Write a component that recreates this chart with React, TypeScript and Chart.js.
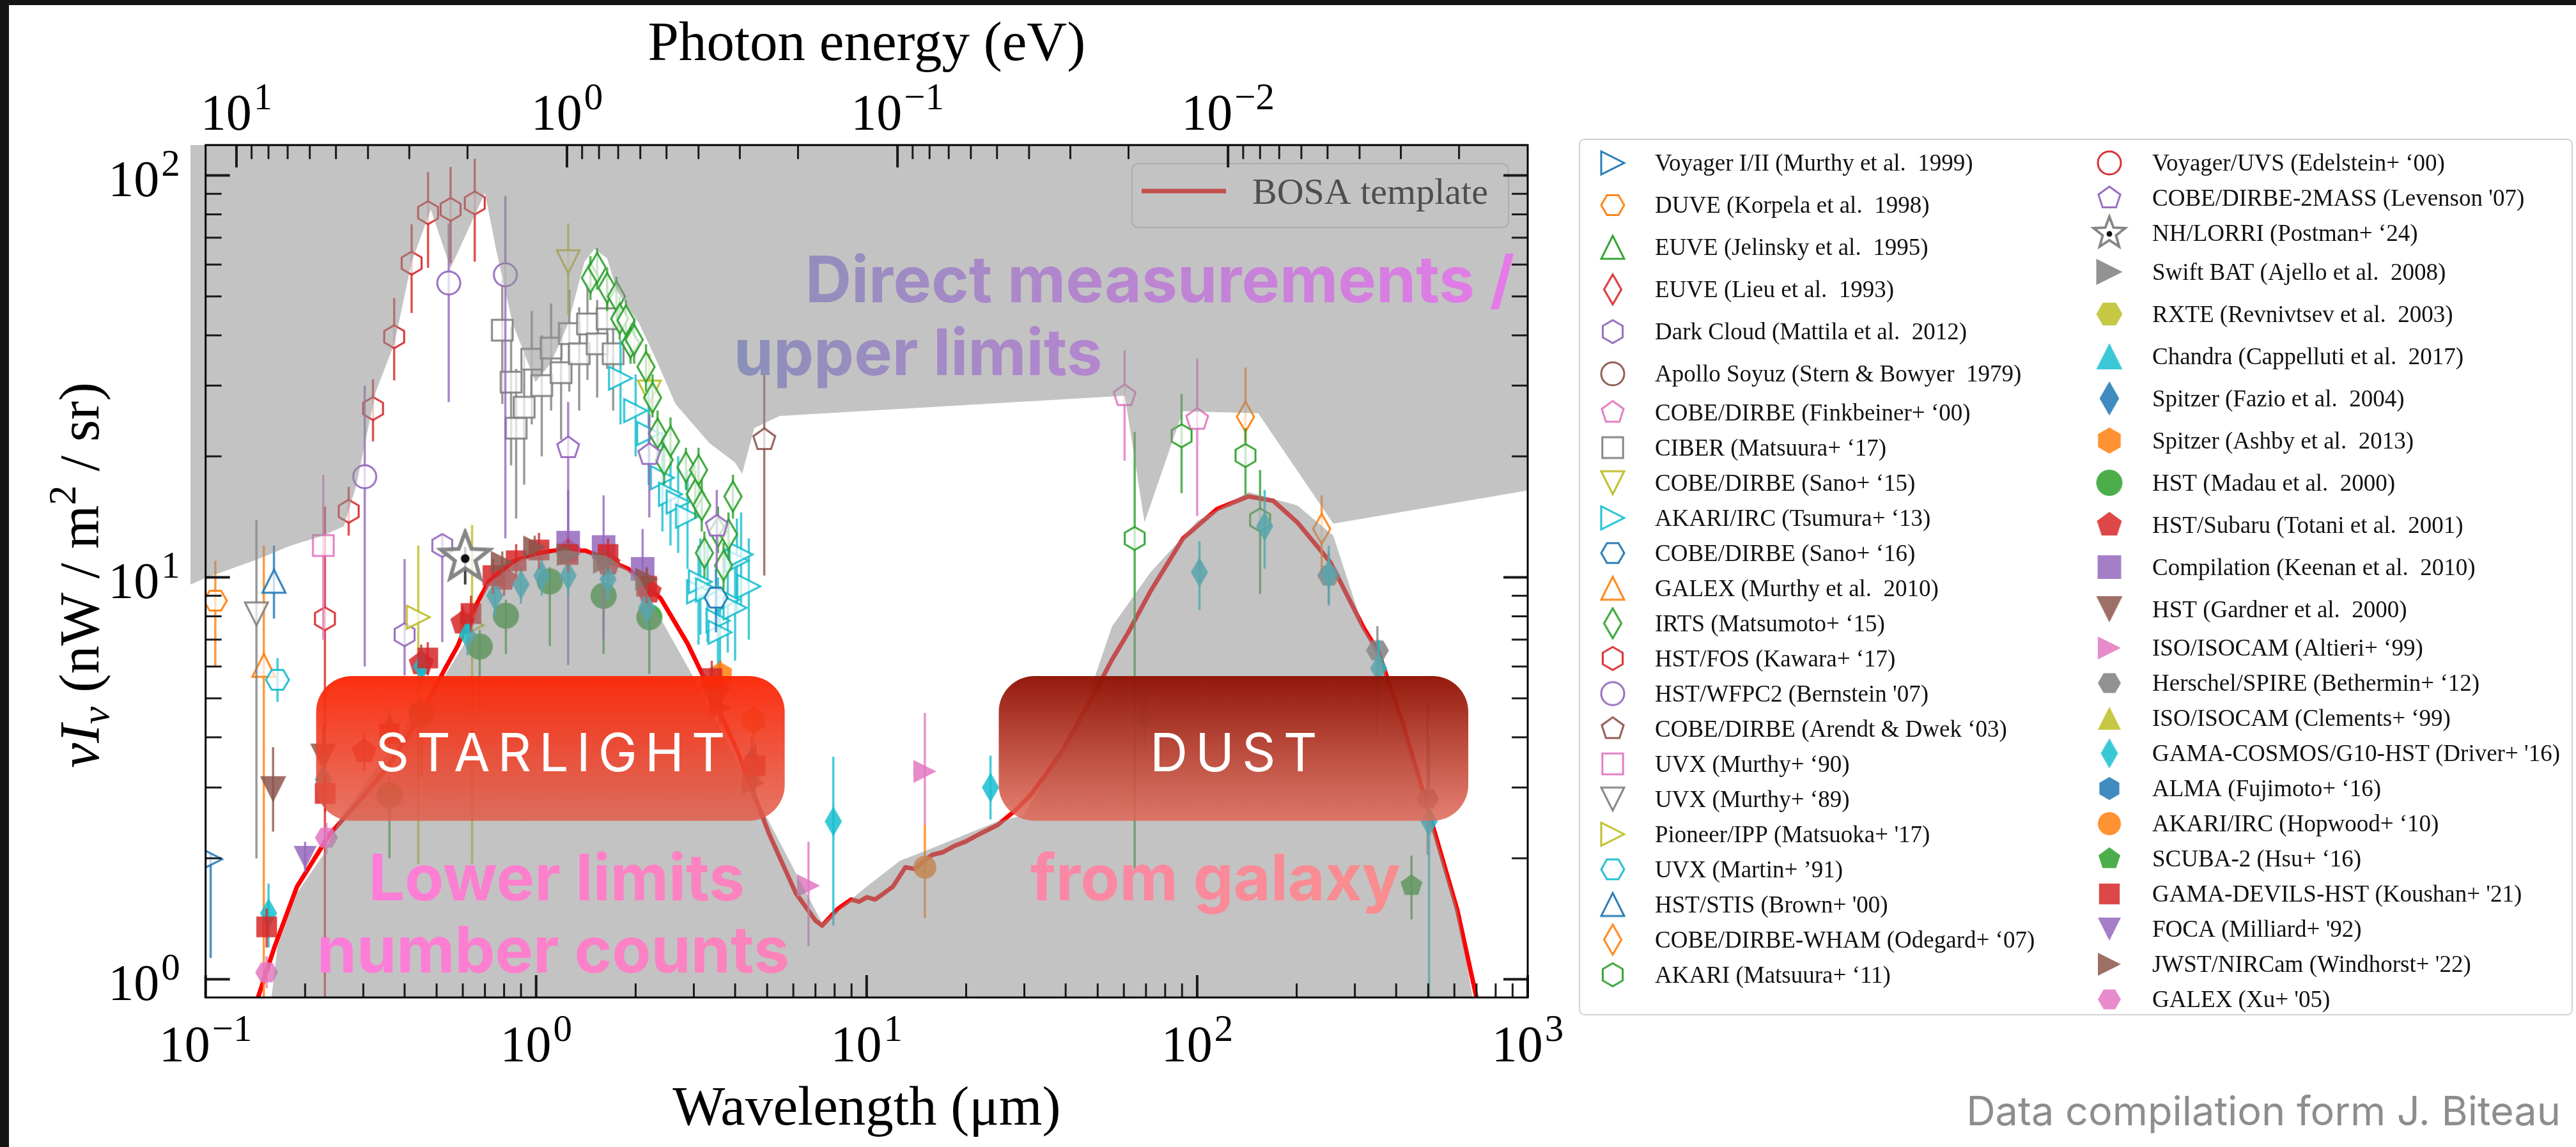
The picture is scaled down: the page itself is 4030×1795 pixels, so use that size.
import React, { useEffect, useRef } from 'react';
import { Chart, registerables } from 'chart.js';

Chart.register(...registerables);

type Pt = [number, number, number?, number?]; // [wavelength µm, nuI_nu, err low, err high]
type XY = [number, number];

const W = 4030;
const H = 1795;

// ---------------- axes ----------------
const X_MIN = 0.09;
const X_MAX = 1000;
const X_FRAME_MIN = 0.1;
const Y_MIN = 0.901;
const Y_MAX = 119.0;
const HC_EV_UM = 1.23984;

const BOTTOM_MAJOR = [0.1, 1, 10, 100, 1000];
const BOTTOM_EXP = ['−1', '0', '1', '2', '3'];
const TOP_MAJOR_EV = [10, 1, 0.1, 0.01];
const TOP_EXP = ['1', '0', '−1', '−2'];
const LEFT_MAJOR = [1, 10, 100];
const LEFT_EXP = ['0', '1', '2'];

// ---------------- envelopes & template ----------------
const UPPER_LIMIT_ENVELOPE: XY[] = [
  [0.09, 9.6], [0.1, 9.96], [0.144, 11.1], [0.181, 12.0], [0.227, 12.7], [0.262, 13.4],
  [0.285, 16.8], [0.327, 28.9], [0.373, 38.3], [0.42, 60.9], [0.48, 82.2], [0.551, 58.8],
  [0.70, 90.4], [0.759, 64.6], [0.849, 42.8], [0.996, 30.6], [1.11, 34.2], [1.25, 42.8],
  [1.40, 60.9], [1.50, 65.6], [1.64, 62.2], [1.755, 51.6], [2.05, 42.8], [2.3, 35.0],
  [2.64, 27.0], [3.34, 21.6], [4.0, 19.3], [4.2, 18.1], [4.57, 23.5], [5.45, 25.2],
  [60.4, 28.3], [69.3, 13.7], [84.8, 22.2], [90.6, 25.9], [153, 25.6], [258, 13.6], [1019, 16.5],
];

const LOWER_LIMIT_ENVELOPE: XY[] = [
  [0.157, 0.85], [0.165, 1.21], [0.189, 1.64], [0.227, 2.04], [0.255, 2.51], [0.36, 3.7],
  [0.45, 4.9], [0.53, 5.7], [0.618, 7.0], [0.71, 9.6], [0.9, 11.1], [1.22, 11.7], [1.64, 11.3],
  [2.05, 10.0], [2.38, 7.9], [2.97, 5.7], [7.33, 1.38], [10.0, 1.70], [12.6, 1.97], [15.8, 2.12],
  [24.9, 2.47], [29.9, 2.56], [35, 3.2], [45, 4.6], [55.3, 7.56], [72.3, 10.3], [100, 13.8],
  [143, 16.3], [201, 15.1], [258, 12.7], [317, 7.56], [354, 6.5], [499, 2.65], [612, 1.49], [690, 0.85],
];

const BOSA_TEMPLATE: XY[] = [
  [0.14, 0.85], [0.144, 0.9], [0.162, 1.21], [0.189, 1.70], [0.237, 2.29], [0.3, 2.85],
  [0.357, 3.39], [0.449, 4.56], [0.53, 5.92], [0.58, 6.77], [0.62, 7.75], [0.673, 8.83],
  [0.72, 9.77], [0.84, 10.9], [1.0, 11.45], [1.13, 11.65], [1.41, 11.65], [1.9, 10.5],
  [2.38, 8.87], [2.87, 6.85], [3.23, 5.6], [4.05, 3.72], [5.08, 2.29], [6.1, 1.64],
  [7.0, 1.40], [7.33, 1.36], [7.7, 1.42], [8.2, 1.5], [8.98, 1.58], [9.5, 1.56], [10.0, 1.6],
  [10.6, 1.58], [11.2, 1.63], [12.0, 1.7], [13.1, 1.9], [14.0, 1.88], [15.0, 1.98], [15.8, 2.04],
  [17.0, 2.07], [18.5, 2.15], [19.9, 2.2], [22.0, 2.3], [24.9, 2.42], [28.0, 2.62], [31.3, 2.87],
  [35.0, 3.25], [39.3, 3.72], [44.0, 4.4], [49.2, 5.2], [55.0, 6.2], [61.8, 7.28], [72.3, 9.25],
  [90.6, 12.5], [115, 14.8], [143, 15.9], [170, 15.5], [201, 13.7], [253, 10.9], [317, 7.56],
  [354, 6.5], [420, 4.3], [499, 2.65], [612, 1.49], [700, 0.9], [720, 0.8],
];

// ---------------- measurements ----------------
const VOYAGER_MURTHY99: Pt[] = [[0.1036, 1.99, 1.13, 2.05]];
const DUVE_KORPELA98: Pt[] = [[0.107, 8.75, 6.0, 11.0]];
const EUVE_JELINSKY95: Pt[] = [];
const EUVE_LIEU93: Pt[] = [];
const DARK_CLOUD_MATTILA12: Pt[] = [[0.4, 7.2, 5.7, 11.1], [0.52, 12.0, 6.9, 12.8]];
const APOLLO_SOYUZ_STERN79: Pt[] = [];
const DIRBE_FINKBEINER00: Pt[] = [[60.3, 28.3, 19.5, 36.7], [100, 24.7, 14.2, 35.1]];
const CIBER_MATSUURA17: Pt[] = [
  [0.79, 41.2, 27, 55], [0.84, 30.6, 19, 42], [0.87, 23.5, 14, 33], [0.92, 26.5, 17, 36],
  [0.97, 34.9, 24, 46], [1.04, 30.0, 20, 40], [1.11, 37.2, 26, 48], [1.19, 32.3, 22, 42],
  [1.26, 40.4, 29, 52], [1.35, 36.0, 26, 47], [1.43, 42.7, 31, 54], [1.53, 38.1, 28, 49],
  [1.64, 44.0, 33, 55], [1.71, 36.0, 26, 46],
];
const DIRBE_SANO15: Pt[] = [[1.25, 61.0, 45, 76], [2.2, 28.9, 22, 36]];
const AKARI_TSUMURA13: Pt[] = [
  [1.8, 31.3, 24, 39], [2.0, 26.0, 20, 32], [2.19, 22.8, 17, 29], [2.41, 17.7, 13, 23],
  [2.55, 16.1, 12, 21], [2.69, 15.4, 11.5, 20], [2.87, 14.2, 10.5, 18.5], [3.1, 9.2, 6.8, 12],
  [3.14, 9.75, 7.2, 12.5], [3.3, 9.3, 6.9, 12], [3.55, 7.8, 5.8, 10], [3.6, 7.3, 5.4, 9.5],
  [3.8, 8.8, 6.5, 11.5], [4.0, 8.4, 6.2, 11], [4.05, 11.0, 8.2, 14], [4.17, 11.4, 8.5, 14.5],
  [4.4, 9.5, 7, 12.5],
];
const DIRBE_SANO16: Pt[] = [[3.5, 8.9, 7.3, 10.5]];
const GALEX_MURTHY10: Pt[] = [[0.15, 6.04, 0.5, 12.0]];
const IRTS_MATSUMOTO15: Pt[] = [
  [1.46, 55.6, 49, 63], [1.53, 58.9, 52, 66], [1.64, 52.5, 46, 59], [1.75, 50.0, 44, 56],
  [1.79, 44.0, 39, 50], [1.87, 43.6, 38, 49], [1.93, 38.3, 34, 43], [1.98, 39.0, 34, 44],
  [2.15, 33.4, 29, 38], [2.25, 28.0, 25, 32], [2.33, 22.8, 20, 26], [2.44, 19.6, 17, 22],
  [2.55, 21.8, 19, 25], [2.84, 18.8, 16.5, 21], [3.03, 16.1, 14, 18.5], [3.1, 18.5, 16, 21],
  [3.17, 15.1, 13, 17.5], [3.23, 11.5, 10, 13], [3.55, 13.0, 11.5, 15], [3.69, 10.7, 9.3, 12.2],
  [3.82, 12.8, 11, 14.5], [3.94, 15.9, 14, 18],
];
const HST_FOS_KAWARA17: Pt[] = [
  [0.2296, 7.89, 0.5, 15.0], [0.271, 14.6, 12.7, 16.8], [0.321, 26.3, 21.8, 31.1],
  [0.372, 39.7, 30.9, 49.5], [0.42, 60.5, 45.5, 75.6], [0.471, 80.8, 58.9, 101.9],
  [0.551, 82.3, 60.5, 105], [0.652, 85.4, 61, 110],
];
const HST_WFPC2_BERNSTEIN07: Pt[] = [[0.303, 17.8, 6.0, 30.0], [0.544, 54.0, 27.3, 76.0], [0.807, 56.6, 12.5, 88.9]];
const DIRBE_ARENDT03: Pt[] = [[4.9, 22.0, 10.1, 34.1]];
const UVX_MURTHY90: Pt[] = [[0.227, 12.0, 7.0, 18.0]];
const UVX_MURTHY89: Pt[] = [[0.1425, 8.11, 2.0, 13.9]];
const PIONEER_MATSUOKA17: Pt[] = [[0.44, 7.96, 1.94, 12.0], [0.64, 7.6, 1.94, 13.5]];
const UVX_MARTIN91: Pt[] = [[0.165, 5.56, 4.9, 6.3]];
const HST_STIS_BROWN00: Pt[] = [[0.161, 9.78, 7.9, 12.0]];
const DIRBE_WHAM_ODEGARD07: Pt[] = [[140, 25.1, 21.8, 33.3], [238, 13.2, 10.3, 16.0]];
const AKARI_MATSUURA11: Pt[] = [[64.7, 12.5, 1.88, 23.0], [89.7, 22.5, 16.2, 28.6], [140, 20.1, 15.9, 23.5], [155, 13.9, 9.1, 18.5]];
const VOYAGER_UVS_EDELSTEIN00: Pt[] = [];
const DIRBE_2MASS_LEVENSON07: Pt[] = [[1.25, 21.0, 12.0, 27.3], [2.2, 20.2, 14.1, 25.4], [3.52, 13.4, 10.5, 16.5]];
const NH_LORRI_POSTMAN24: Pt[] = [[0.61, 11.2, 9.6, 11.9]];
const SWIFT_BAT_AJELLO08: Pt[] = [];
const RXTE_REVNIVTSEV03: Pt[] = [];
const CHANDRA_CAPPELLUTI17: Pt[] = [];
const SPITZER_FAZIO04: Pt[] = [[3.6, 5.3, 4.4, 6.2], [4.5, 3.45, 2.9, 4.0]];
const SPITZER_ASHBY13: Pt[] = [[3.61, 5.71, 5.2, 6.2], [4.54, 4.4, 4.0, 4.8]];
const HST_MADAU00: Pt[] = [
  [0.36, 2.87, 2.0, 3.2], [0.45, 4.56, 3.2, 5.0], [0.675, 6.73, 4.7, 7.4], [0.81, 8.03, 6.45, 8.8],
  [1.1, 9.77, 6.75, 10.6], [1.6, 9.0, 6.45, 9.8], [2.2, 7.96, 5.75, 8.7],
];
const HST_SUBARU_TOTANI01: Pt[] = [
  [0.302, 3.69, 3.3, 4.1], [0.449, 6.1, 5.5, 6.8], [0.6, 7.7, 7.0, 8.5], [0.8, 9.9, 9.0, 10.8],
  [1.25, 11.6, 10.5, 12.7], [1.65, 10.8, 9.8, 11.8], [2.2, 9.2, 8.3, 10.1],
];
const COMPILATION_KEENAN10: Pt[] = [[1.25, 12.2, 6.05, 16.5], [1.6, 11.9, 7.0, 16.0], [2.1, 10.5, 8.2, 13.2]];
const HST_GARDNER00: Pt[] = [[0.16, 2.97, 2.33, 3.78], [0.227, 3.58, 2.9, 4.3]];
const ISO_ALTIERI99: Pt[] = [[6.67, 1.71, 1.21, 2.2], [15.0, 3.29, 2.42, 4.6]];
const HERSCHEL_BETHERMIN12: Pt[] = [[250, 10.1, 8.6, 11.6], [351, 6.58, 4.04, 7.56], [498, 2.81, 2.04, 4.9]];
const ISO_CLEMENTS99: Pt[] = [];
const GAMA_COSMOS_DRIVER16: Pt[] = [
  [0.155, 1.46, 1.2, 1.73], [0.227, 3.14, 2.7, 3.6], [0.36, 4.2, 3.7, 4.7], [0.45, 6.0, 5.3, 6.7],
  [0.62, 7.2, 6.4, 8.0], [0.75, 9.0, 8.0, 10.0], [0.9, 9.6, 8.6, 10.6], [1.04, 10.1, 9.0, 11.2],
  [1.25, 10.1, 9.0, 11.2], [1.65, 9.9, 8.8, 11.0], [2.16, 8.4, 7.5, 9.4], [3.4, 5.2, 4.5, 6.0],
  [4.6, 3.3, 2.8, 3.9], [7.93, 2.47, 1.36, 3.58], [23.7, 3.0, 2.5, 3.6], [69.4, 4.48, 3.78, 5.25],
  [101.6, 10.3, 8.3, 12.3], [160, 13.4, 10.5, 16.5], [250, 10.2, 8.5, 12.0], [354, 5.94, 5.0, 7.0],
  [503, 2.47, 0.5, 4.0],
];
const ALMA_FUJIMOTO16: Pt[] = [];
const AKARI_HOPWOOD10: Pt[] = [[15.0, 1.9, 1.42, 2.42]];
const SCUBA2_HSU16: Pt[] = [[445, 1.71, 1.41, 2.03]];
const GAMA_DEVILS_KOUSHAN21: Pt[] = [
  [0.153, 1.35, 1.2, 1.5], [0.23, 2.9, 2.6, 3.2], [0.36, 4.08, 3.7, 4.5], [0.47, 6.3, 5.7, 6.9],
  [0.635, 8.13, 7.3, 9.0], [0.74, 10.1, 9.1, 11.1], [0.87, 11.0, 9.9, 12.1], [1.02, 11.7, 10.5, 12.9],
  [1.25, 11.4, 10.3, 12.5], [1.65, 11.4, 10.3, 12.5], [2.16, 9.5, 8.6, 10.5], [3.4, 5.6, 5.0, 6.2],
  [4.6, 3.4, 3.0, 3.8],
];
const FOCA_MILLIARD92: Pt[] = [[0.2, 2.01, 1.85, 2.2]];
const JWST_WINDHORST22: Pt[] = [
  [0.79, 10.9, 10.2, 11.6], [0.99, 11.9, 11.1, 12.7], [1.25, 11.4, 10.6, 12.2], [1.61, 10.9, 10.1, 11.7],
  [2.16, 9.9, 9.2, 10.6], [3.6, 4.74, 4.3, 5.2], [4.54, 3.08, 2.8, 3.4],
];
const GALEX_XU05: Pt[] = [[0.153, 1.04, 0.95, 1.14], [0.232, 2.25, 2.05, 2.45]];

// ---------------- styles ----------------
const C_BLUE = '#1f77b4', C_ORANGE = '#ff7f0e', C_GREEN = '#2ca02c', C_RED = '#d62728', C_PURPLE = '#9467bd';
const C_BROWN = '#8c564b', C_PINK = '#e377c2', C_GRAY = '#7f7f7f', C_OLIVE = '#bcbd22', C_CYAN = '#17becf';
const GRAY_OVERLAY = 'rgba(145,145,145,0.54)';

type Shape = 'circle' | 'square' | 'triUp' | 'triDown' | 'triRight' | 'hexFlat' | 'hexPointy' | 'pentagon' | 'thinDiamond' | 'star';
interface Series { label: string; data: Pt[]; color: string; shape: Shape; filled: boolean; big?: boolean; tall?: boolean; errColor?: string; }

const SERIES: Series[] = [
  { label: 'Voyager I/II (Murthy et al.  1999)', data: VOYAGER_MURTHY99, color: C_BLUE, shape: 'triRight', filled: false, tall: true },
  { label: 'DUVE (Korpela et al.  1998)', data: DUVE_KORPELA98, color: C_ORANGE, shape: 'hexFlat', filled: false, tall: true },
  { label: 'EUVE (Jelinsky et al.  1995)', data: EUVE_JELINSKY95, color: C_GREEN, shape: 'triUp', filled: false, tall: true },
  { label: 'EUVE (Lieu et al.  1993)', data: EUVE_LIEU93, color: C_RED, shape: 'thinDiamond', filled: false, tall: true },
  { label: 'Dark Cloud (Mattila et al.  2012)', data: DARK_CLOUD_MATTILA12, color: C_PURPLE, shape: 'hexPointy', filled: false, tall: true },
  { label: 'Apollo Soyuz (Stern & Bowyer  1979)', data: APOLLO_SOYUZ_STERN79, color: C_BROWN, shape: 'circle', filled: false, tall: true },
  { label: 'COBE/DIRBE (Finkbeiner+ ‘00)', data: DIRBE_FINKBEINER00, color: C_PINK, shape: 'pentagon', filled: false },
  { label: 'CIBER (Matsuura+ ‘17)', data: CIBER_MATSUURA17, color: C_GRAY, shape: 'square', filled: false },
  { label: 'COBE/DIRBE (Sano+ ‘15)', data: DIRBE_SANO15, color: C_OLIVE, shape: 'triDown', filled: false },
  { label: 'AKARI/IRC (Tsumura+ ‘13)', data: AKARI_TSUMURA13, color: C_CYAN, shape: 'triRight', filled: false },
  { label: 'COBE/DIRBE (Sano+ ‘16)', data: DIRBE_SANO16, color: C_BLUE, shape: 'hexFlat', filled: false },
  { label: 'GALEX (Murthy et al.  2010)', data: GALEX_MURTHY10, color: C_ORANGE, shape: 'triUp', filled: false },
  { label: 'IRTS (Matsumoto+ ‘15)', data: IRTS_MATSUMOTO15, color: C_GREEN, shape: 'thinDiamond', filled: false },
  { label: 'HST/FOS (Kawara+ ‘17)', data: HST_FOS_KAWARA17, color: C_RED, shape: 'hexPointy', filled: false },
  { label: "HST/WFPC2 (Bernstein '07)", data: HST_WFPC2_BERNSTEIN07, color: C_PURPLE, shape: 'circle', filled: false },
  { label: 'COBE/DIRBE (Arendt & Dwek ‘03)', data: DIRBE_ARENDT03, color: C_BROWN, shape: 'pentagon', filled: false },
  { label: 'UVX (Murthy+ ‘90)', data: UVX_MURTHY90, color: C_PINK, shape: 'square', filled: false },
  { label: 'UVX (Murthy+ ‘89)', data: UVX_MURTHY89, color: C_GRAY, shape: 'triDown', filled: false },
  { label: "Pioneer/IPP (Matsuoka+ '17)", data: PIONEER_MATSUOKA17, color: C_OLIVE, shape: 'triRight', filled: false },
  { label: 'UVX (Martin+ ’91)', data: UVX_MARTIN91, color: C_CYAN, shape: 'hexFlat', filled: false },
  { label: "HST/STIS (Brown+ '00)", data: HST_STIS_BROWN00, color: C_BLUE, shape: 'triUp', filled: false },
  { label: 'COBE/DIRBE-WHAM (Odegard+ ‘07)', data: DIRBE_WHAM_ODEGARD07, color: C_ORANGE, shape: 'thinDiamond', filled: false },
  { label: 'AKARI (Matsuura+ ‘11)', data: AKARI_MATSUURA11, color: C_GREEN, shape: 'hexPointy', filled: false },
  { label: 'Voyager/UVS (Edelstein+ ‘00)', data: VOYAGER_UVS_EDELSTEIN00, color: C_RED, shape: 'circle', filled: false },
  { label: "COBE/DIRBE-2MASS (Levenson '07)", data: DIRBE_2MASS_LEVENSON07, color: C_PURPLE, shape: 'pentagon', filled: false },
  { label: 'NH/LORRI (Postman+ ‘24)', data: NH_LORRI_POSTMAN24, color: C_GRAY, shape: 'star', filled: false, errColor: '#111111' },
  { label: 'Swift BAT (Ajello et al.  2008)', data: SWIFT_BAT_AJELLO08, color: C_GRAY, shape: 'triRight', filled: true, big: true, tall: true },
  { label: 'RXTE (Revnivtsev et al.  2003)', data: RXTE_REVNIVTSEV03, color: C_OLIVE, shape: 'hexFlat', filled: true, big: true, tall: true },
  { label: 'Chandra (Cappelluti et al.  2017)', data: CHANDRA_CAPPELLUTI17, color: C_CYAN, shape: 'triUp', filled: true, big: true, tall: true },
  { label: 'Spitzer (Fazio et al.  2004)', data: SPITZER_FAZIO04, color: C_BLUE, shape: 'thinDiamond', filled: true, big: true, tall: true },
  { label: 'Spitzer (Ashby et al.  2013)', data: SPITZER_ASHBY13, color: C_ORANGE, shape: 'hexPointy', filled: true, big: true, tall: true },
  { label: 'HST (Madau et al.  2000)', data: HST_MADAU00, color: C_GREEN, shape: 'circle', filled: true, big: true, tall: true },
  { label: 'HST/Subaru (Totani et al.  2001)', data: HST_SUBARU_TOTANI01, color: C_RED, shape: 'pentagon', filled: true, big: true, tall: true },
  { label: 'Compilation (Keenan et al.  2010)', data: COMPILATION_KEENAN10, color: C_PURPLE, shape: 'square', filled: true, big: true, tall: true },
  { label: 'HST (Gardner et al.  2000)', data: HST_GARDNER00, color: C_BROWN, shape: 'triDown', filled: true, big: true, tall: true },
  { label: 'ISO/ISOCAM (Altieri+ ‘99)', data: ISO_ALTIERI99, color: C_PINK, shape: 'triRight', filled: true },
  { label: 'Herschel/SPIRE (Bethermin+ ‘12)', data: HERSCHEL_BETHERMIN12, color: C_GRAY, shape: 'hexFlat', filled: true },
  { label: 'ISO/ISOCAM (Clements+ ‘99)', data: ISO_CLEMENTS99, color: C_OLIVE, shape: 'triUp', filled: true },
  { label: "GAMA-COSMOS/G10-HST (Driver+ '16)", data: GAMA_COSMOS_DRIVER16, color: C_CYAN, shape: 'thinDiamond', filled: true },
  { label: 'ALMA (Fujimoto+ ‘16)', data: ALMA_FUJIMOTO16, color: C_BLUE, shape: 'hexPointy', filled: true },
  { label: 'AKARI/IRC (Hopwood+ ‘10)', data: AKARI_HOPWOOD10, color: C_ORANGE, shape: 'circle', filled: true },
  { label: 'SCUBA-2 (Hsu+ ‘16)', data: SCUBA2_HSU16, color: C_GREEN, shape: 'pentagon', filled: true },
  { label: "GAMA-DEVILS-HST (Koushan+ '21)", data: GAMA_DEVILS_KOUSHAN21, color: C_RED, shape: 'square', filled: true },
  { label: "FOCA (Milliard+ '92)", data: FOCA_MILLIARD92, color: C_PURPLE, shape: 'triDown', filled: true },
  { label: "JWST/NIRCam (Windhorst+ '22)", data: JWST_WINDHORST22, color: C_BROWN, shape: 'triRight', filled: true },
  { label: "GALEX (Xu+ '05)", data: GALEX_XU05, color: C_PINK, shape: 'hexFlat', filled: true },
];
const LEFT_COLUMN_COUNT = 23;

// annotations (data coordinates)
const BOXES = [
  { text: 'STARLIGHT', x0: 0.216, x1: 5.65, y0: 2.48, y1: 5.68, top: 'rgba(252,38,6,0.96)', bottom: 'rgba(224,92,74,0.84)' },
  { text: 'DUST', x0: 25.1, x1: 661, y0: 2.48, y1: 5.68, top: 'rgba(144,18,4,0.97)', bottom: 'rgba(224,104,86,0.84)' },
];
const LABELS_UPPER = [
  { text: 'Direct measurements /', x: 6.52, y: 48.3 },
  { text: 'upper limits', x: 3.96, y: 31.8 },
];
const LABELS_LOWER = [
  { text: 'Lower limits', x: 0.311, y: 1.57 },
  { text: 'number counts', x: 0.217, y: 1.04 },
  { text: 'from galaxy', x: 31.3, y: 1.57 },
];

// ---------------- helpers ----------------
function rgba(hex: string, a: number) {
  const n = parseInt(hex.slice(1), 16);
  return `rgba(${(n >> 16) & 255},${(n >> 8) & 255},${n & 255},${a})`;
}

function polyPath(ctx: CanvasRenderingContext2D, n: number, r: number, startDeg: number) {
  for (let i = 0; i < n; i++) {
    const a = ((startDeg + (i * 360) / n) * Math.PI) / 180;
    const px = r * Math.cos(a), py = r * Math.sin(a);
    if (i === 0) ctx.moveTo(px, py); else ctx.lineTo(px, py);
  }
  ctx.closePath();
}

function tracePath(ctx: CanvasRenderingContext2D, shape: Shape, size: number) {
  const r = size / 2;
  ctx.beginPath();
  switch (shape) {
    case 'circle': ctx.arc(0, 0, r, 0, Math.PI * 2); break;
    case 'square': ctx.rect(-r * 0.9, -r * 0.9, r * 1.8, r * 1.8); break;
    case 'triUp': ctx.moveTo(0, -r); ctx.lineTo(r, r); ctx.lineTo(-r, r); ctx.closePath(); break;
    case 'triDown': ctx.moveTo(0, r); ctx.lineTo(r, -r); ctx.lineTo(-r, -r); ctx.closePath(); break;
    case 'triRight': ctx.moveTo(r, 0); ctx.lineTo(-r, -r); ctx.lineTo(-r, r); ctx.closePath(); break;
    case 'hexFlat': polyPath(ctx, 6, r, 0); break;
    case 'hexPointy': polyPath(ctx, 6, r, -90); break;
    case 'pentagon': polyPath(ctx, 5, r, -90); break;
    case 'thinDiamond':
      ctx.moveTo(0, -r * 1.3); ctx.lineTo(r * 0.75, 0); ctx.lineTo(0, r * 1.3); ctx.lineTo(-r * 0.75, 0); ctx.closePath(); break;
    case 'star': {
      for (let i = 0; i < 10; i++) {
        const rr = i % 2 === 0 ? r : r * 0.42;
        const a = ((-90 + i * 36) * Math.PI) / 180;
        const px = rr * Math.cos(a), py = rr * Math.sin(a);
        if (i === 0) ctx.moveTo(px, py); else ctx.lineTo(px, py);
      }
      ctx.closePath();
      break;
    }
  }
}

function makeMarker(shape: Shape, color: string, filled: boolean, size: number) {
  const ext = shape === 'thinDiamond' ? size * 0.65 : size * 0.5;
  const dim = Math.ceil(ext * 2 + 12);
  const c = document.createElement('canvas');
  c.width = dim; c.height = dim;
  const ctx = c.getContext('2d') as CanvasRenderingContext2D;
  ctx.translate(dim / 2, dim / 2);
  tracePath(ctx, shape, size);
  if (shape === 'star') {
    ctx.fillStyle = 'rgba(255,255,255,0.75)';
    ctx.fill();
    ctx.lineJoin = 'miter';
    ctx.lineWidth = Math.max(3, size * 0.075);
    ctx.strokeStyle = rgba(color, 0.95);
    ctx.stroke();
    ctx.beginPath();
    ctx.arc(0, size * 0.02, size * 0.085, 0, Math.PI * 2);
    ctx.fillStyle = '#111';
    ctx.fill();
    return c;
  }
  if (filled) {
    ctx.fillStyle = rgba(color, 0.85);
    ctx.fill();
  } else {
    ctx.fillStyle = 'rgba(255,255,255,0.7)';
    ctx.fill();
    ctx.lineWidth = 3;
    ctx.strokeStyle = rgba(color, 0.95);
    ctx.stroke();
  }
  return c;
}

function markerSize(s: Series, legend: boolean) {
  if (s.shape === 'star') return legend ? 52 : 80;
  return s.big ? 41 : 36;
}

function minorValues(lo: number, hi: number) {
  const out: number[] = [];
  for (let e = Math.floor(Math.log10(lo)) - 1; e <= Math.ceil(Math.log10(hi)); e++) {
    for (let m = 2; m <= 9; m++) {
      const v = m * Math.pow(10, e);
      if (v > lo * 1.0001 && v < hi * 0.9999) out.push(v);
    }
  }
  return out;
}

const SERIF = '"Liberation Serif", "DejaVu Serif", serif';

function drawPow(ctx: CanvasRenderingContext2D, exp: string, x: number, y: number, align: 'center' | 'right') {
  const mainPx = 80, supPx = 59;
  ctx.font = `${mainPx}px ${SERIF}`;
  const wb = ctx.measureText('10').width;
  ctx.font = `${supPx}px ${SERIF}`;
  const we = ctx.measureText(exp).width;
  const gap = 3;
  const total = wb + gap + we;
  const x0 = align === 'center' ? x - total / 2 : x - total;
  ctx.textAlign = 'left';
  ctx.textBaseline = 'alphabetic';
  ctx.fillStyle = '#000';
  ctx.font = `${mainPx}px ${SERIF}`;
  ctx.fillText('10', x0, y);
  ctx.font = `${supPx}px ${SERIF}`;
  ctx.fillText(exp, x0 + wb + gap, y - 32);
}

function roundRectPath(ctx: CanvasRenderingContext2D, x: number, y: number, w: number, h: number, r: number) {
  ctx.beginPath();
  ctx.moveTo(x + r, y);
  ctx.arcTo(x + w, y, x + w, y + h, r);
  ctx.arcTo(x + w, y + h, x, y + h, r);
  ctx.arcTo(x, y + h, x, y, r);
  ctx.arcTo(x, y, x + w, y, r);
  ctx.closePath();
}

export default function App() {
  const canvasRef = useRef<HTMLCanvasElement | null>(null);

  useEffect(() => {
    const canvas = canvasRef.current;
    if (!canvas) return;

    const padLeft = 298, padRight = W - 2390, padTop = 227, padBottom = H - 1561;
    const areaW = W - padLeft - padRight;
    const frameInset = (areaW * Math.log10(X_FRAME_MIN / X_MIN)) / Math.log10(X_MAX / X_MIN);

    const plotMarkers = SERIES.map((s) => makeMarker(s.shape, s.color, s.filled, markerSize(s, false)));
    const legendMarkers = SERIES.map((s) => makeMarker(s.shape, s.color, s.filled, markerSize(s, true)));

    const datasets: any[] = [
      {
        label: 'upper limits', data: UPPER_LIMIT_ENVELOPE.map(([x, y]) => ({ x, y })),
        fill: 'end', backgroundColor: GRAY_OVERLAY, borderWidth: 0, pointRadius: 0, tension: 0, order: 0,
      },
      {
        label: 'lower limits', data: LOWER_LIMIT_ENVELOPE.map(([x, y]) => ({ x, y })),
        fill: 'start', backgroundColor: GRAY_OVERLAY, borderWidth: 0, pointRadius: 0, tension: 0, order: 0,
      },
      {
        label: 'BOSA template', data: BOSA_TEMPLATE.map(([x, y]) => ({ x, y })),
        borderColor: '#ff0000', borderWidth: 7, pointRadius: 0, fill: false, tension: 0, order: 500,
        borderJoinStyle: 'round',
      },
    ];
    SERIES.forEach((s, i) => {
      datasets.push({
        label: s.label,
        data: s.data.map((p) => ({ x: p[0], y: p[1] })),
        showLine: false,
        pointStyle: plotMarkers[i],
        pointRadius: 18,
        pointHoverRadius: 18,
        order: 300 - i,
        errPts: s.data,
        errColor: s.errColor || s.color,
        errWidth: s.shape === 'star' ? 4 : 3.5,
        clip: { left: -frameInset, top: 0, right: 0, bottom: 0 },
      });
    });

    const errorBarPlugin = {
      id: 'errorBars',
      beforeDatasetDraw(chart: any, args: any) {
        const ds = chart.data.datasets[args.index];
        if (!ds.errPts) return;
        const ctx: CanvasRenderingContext2D = chart.ctx;
        const xs = chart.scales.x, ys = chart.scales.y, a = chart.chartArea;
        const left = xs.getPixelForValue(X_FRAME_MIN);
        ctx.save();
        ctx.beginPath();
        ctx.rect(left, a.top, a.right - left, a.bottom - a.top);
        ctx.clip();
        ctx.strokeStyle = rgba(ds.errColor, 0.8);
        ctx.lineWidth = ds.errWidth;
        for (const p of ds.errPts as Pt[]) {
          if (p[2] == null || p[3] == null) continue;
          const x = xs.getPixelForValue(p[0]);
          ctx.beginPath();
          ctx.moveTo(x, ys.getPixelForValue(p[2] as number));
          ctx.lineTo(x, ys.getPixelForValue(p[3] as number));
          ctx.stroke();
        }
        ctx.restore();
      },
    };

    const innerLegendPlugin = {
      id: 'innerLegend',
      beforeDatasetsDraw(chart: any) {
        const ctx: CanvasRenderingContext2D = chart.ctx;
        const a = chart.chartArea;
        const right = a.right - 30, top = a.top + 29, w = 589, h = 100;
        ctx.save();
        roundRectPath(ctx, right - w, top, w, h, 10);
        ctx.fillStyle = 'rgba(255,255,255,0.85)';
        ctx.fill();
        ctx.strokeStyle = '#cfcfcf';
        ctx.lineWidth = 2;
        ctx.stroke();
        ctx.strokeStyle = '#ff0000';
        ctx.lineWidth = 7;
        ctx.beginPath();
        ctx.moveTo(right - w + 15, top + 43);
        ctx.lineTo(right - w + 147, top + 43);
        ctx.stroke();
        ctx.fillStyle = '#000';
        ctx.font = `58px ${SERIF}`;
        ctx.textBaseline = 'alphabetic';
        ctx.textAlign = 'left';
        ctx.fillText('BOSA template', right - w + 188, top + 63);
        ctx.restore();
      },
    };

    const annotationPlugin = {
      id: 'annotations',
      afterDatasetsDraw(chart: any) {
        const ctx: CanvasRenderingContext2D = chart.ctx;
        const xs = chart.scales.x, ys = chart.scales.y;
        ctx.save();
        for (const b of BOXES) {
          const x0 = xs.getPixelForValue(b.x0), x1 = xs.getPixelForValue(b.x1);
          const y0 = ys.getPixelForValue(b.y1), y1 = ys.getPixelForValue(b.y0);
          const g = ctx.createLinearGradient(0, y0, 0, y1);
          g.addColorStop(0, b.top);
          g.addColorStop(1, b.bottom);
          roundRectPath(ctx, x0, y0, x1 - x0, y1 - y0, 56);
          ctx.fillStyle = g;
          ctx.fill();
          ctx.font = '400 82px Inter, "Noto Sans", sans-serif';
          const ls = 12;
          (ctx as any).letterSpacing = `${ls}px`;
          const tw = ctx.measureText(b.text).width - ls;
          ctx.fillStyle = '#ffffff';
          ctx.textAlign = 'left';
          ctx.textBaseline = 'alphabetic';
          ctx.fillText(b.text, (x0 + x1) / 2 - tw / 2, (y0 + y1) / 2 + 36);
          (ctx as any).letterSpacing = '0px';
        }
        ctx.font = '700 100px Inter, "Noto Sans", sans-serif';
        const drawGroup = (labels: { text: string; x: number; y: number }[], c0: string, c1: string) => {
          let minX = Infinity, maxX = -Infinity;
          const pos = labels.map((l) => {
            const px = xs.getPixelForValue(l.x), py = ys.getPixelForValue(l.y);
            const w = ctx.measureText(l.text).width;
            minX = Math.min(minX, px); maxX = Math.max(maxX, px + w);
            return { ...l, px, py };
          });
          const g = ctx.createLinearGradient(minX, 0, maxX, 0);
          g.addColorStop(0, c0);
          g.addColorStop(1, c1);
          ctx.fillStyle = g;
          ctx.textAlign = 'left';
          ctx.textBaseline = 'alphabetic';
          for (const p of pos) ctx.fillText(p.text, p.px, p.py);
        };
        drawGroup(LABELS_UPPER, '#8a90b8', '#e67ae9');
        drawGroup(LABELS_LOWER, '#fd7cdc', '#f98d8d');
        ctx.restore();
      },
    };

    const axesPlugin = {
      id: 'axesAndLegend',
      afterDraw(chart: any) {
        const ctx: CanvasRenderingContext2D = chart.ctx;
        const xs = chart.scales.x, ys = chart.scales.y, a = chart.chartArea;
        const L = xs.getPixelForValue(X_FRAME_MIN), R = a.right, T = a.top, B = a.bottom;
        ctx.save();
        ctx.strokeStyle = '#1a1a1a';
        const tick = (x1: number, y1: number, x2: number, y2: number, w: number) => {
          ctx.lineWidth = w;
          ctx.beginPath();
          ctx.moveTo(x1, y1);
          ctx.lineTo(x2, y2);
          ctx.stroke();
        };
        for (const v of BOTTOM_MAJOR) { const x = xs.getPixelForValue(v); tick(x, B, x, B - 35, 4); }
        for (const v of minorValues(X_FRAME_MIN, X_MAX)) { const x = xs.getPixelForValue(v); tick(x, B, x, B - 22, 3); }
        for (const e of TOP_MAJOR_EV) { const x = xs.getPixelForValue(HC_EV_UM / e); tick(x, T, x, T + 35, 4); }
        for (const e of minorValues(HC_EV_UM / X_MAX, HC_EV_UM / X_FRAME_MIN)) {
          const x = xs.getPixelForValue(HC_EV_UM / e); tick(x, T, x, T + 22, 3);
        }
        for (const v of LEFT_MAJOR) { const y = ys.getPixelForValue(v); tick(L, y, L + 38, y, 4); tick(R, y, R - 38, y, 4); }
        for (const v of minorValues(Y_MIN, Y_MAX)) { const y = ys.getPixelForValue(v); tick(L, y, L + 25, y, 3); tick(R, y, R - 25, y, 3); }
        ctx.lineWidth = 3;
        ctx.strokeStyle = '#000';
        ctx.strokeRect(L, T, R - L, B - T);
        BOTTOM_MAJOR.forEach((v, i) => drawPow(ctx, BOTTOM_EXP[i], xs.getPixelForValue(v), B + 100, 'center'));
        TOP_MAJOR_EV.forEach((e, i) => drawPow(ctx, TOP_EXP[i], xs.getPixelForValue(HC_EV_UM / e), T - 24, 'center'));
        LEFT_MAJOR.forEach((v, i) => drawPow(ctx, LEFT_EXP[i], L - 40, ys.getPixelForValue(v) + 32, 'right'));
        const cx = (L + R) / 2;
        ctx.fillStyle = '#000';
        ctx.textAlign = 'center';
        ctx.font = `87px ${SERIF}`;
        ctx.fillText('Photon energy (eV)', cx, 94);
        ctx.fillText('Wavelength (μm)', cx, 1760);
        ctx.save();
        ctx.translate(154, (T + B) / 2 + 6);
        ctx.rotate(-Math.PI / 2);
        const parts: { t: string; f: string; dy: number }[] = [
          { t: 'ν', f: `italic 88px ${SERIF}`, dy: 0 },
          { t: 'I', f: `italic 88px ${SERIF}`, dy: 0 },
          { t: 'ν', f: `italic 62px ${SERIF}`, dy: 16 },
          { t: ' (nW / m', f: `88px ${SERIF}`, dy: 0 },
          { t: '2', f: `62px ${SERIF}`, dy: -36 },
          { t: ' / sr)', f: `88px ${SERIF}`, dy: 0 },
        ];
        let tot = 0;
        const widths = parts.map((p) => { ctx.font = p.f; const w = ctx.measureText(p.t).width; tot += w; return w; });
        let px = -tot / 2;
        ctx.textAlign = 'left';
        parts.forEach((p, i) => { ctx.font = p.f; ctx.fillText(p.t, px, p.dy); px += widths[i]; });
        ctx.restore();

        const bx = 2471, by = 218, bw = 4024 - 2471, bh = 1588 - 218;
        roundRectPath(ctx, bx, by, bw, bh, 8);
        ctx.fillStyle = '#ffffff';
        ctx.fill();
        ctx.strokeStyle = '#d2d2d2';
        ctx.lineWidth = 2;
        ctx.stroke();
        const cols = [
          { mx: 2523, tx: 2589, from: 0, to: LEFT_COLUMN_COUNT },
          { mx: 3300, tx: 3367, from: LEFT_COLUMN_COUNT, to: SERIES.length },
        ];
        ctx.font = `37px ${SERIF}`;
        ctx.textAlign = 'left';
        ctx.textBaseline = 'alphabetic';
        for (const col of cols) {
          let y = 255;
          let prevH = 0;
          for (let i = col.from; i < col.to; i++) {
            const s = SERIES[i];
            const h = s.tall ? 66 : 55;
            if (i > col.from) y += (prevH + h) / 2;
            prevH = h;
            const m = legendMarkers[i];
            ctx.drawImage(m, col.mx - m.width / 2, y - m.height / 2);
            ctx.fillStyle = '#111';
            ctx.fillText(s.label, col.tx, y + 12);
          }
        }
        ctx.font = '400 63px Inter, Roboto, sans-serif';
        ctx.fillStyle = '#8d8d8d';
        ctx.textAlign = 'right';
        ctx.fillText('Data compilation form J. Biteau', 4006, 1761);
        ctx.restore();
      },
    };

    const chart = new Chart(canvas, {
      type: 'line',
      data: { datasets },
      options: {
        animation: false,
        responsive: false,
        devicePixelRatio: 1,
        events: [],
        layout: { padding: { left: padLeft, right: padRight, top: padTop, bottom: padBottom } },
        scales: {
          x: { type: 'logarithmic', min: X_MIN, max: X_MAX, display: false },
          y: { type: 'logarithmic', min: Y_MIN, max: Y_MAX, display: false },
        },
        plugins: { legend: { display: false }, tooltip: { enabled: false } },
      },
      plugins: [errorBarPlugin, innerLegendPlugin, annotationPlugin, axesPlugin],
    } as any);

    return () => chart.destroy();
  }, []);

  return (
    <div style={{ position: 'absolute', left: 0, top: 0, width: W, height: H, background: '#141414', overflow: 'hidden' }}>
      <div style={{ position: 'absolute', left: 14, top: 8, right: 0, bottom: 0, background: '#ffffff' }} />
      <canvas ref={canvasRef} width={W} height={H} style={{ position: 'absolute', left: 0, top: 0, width: W, height: H }} />
    </div>
  );
}
